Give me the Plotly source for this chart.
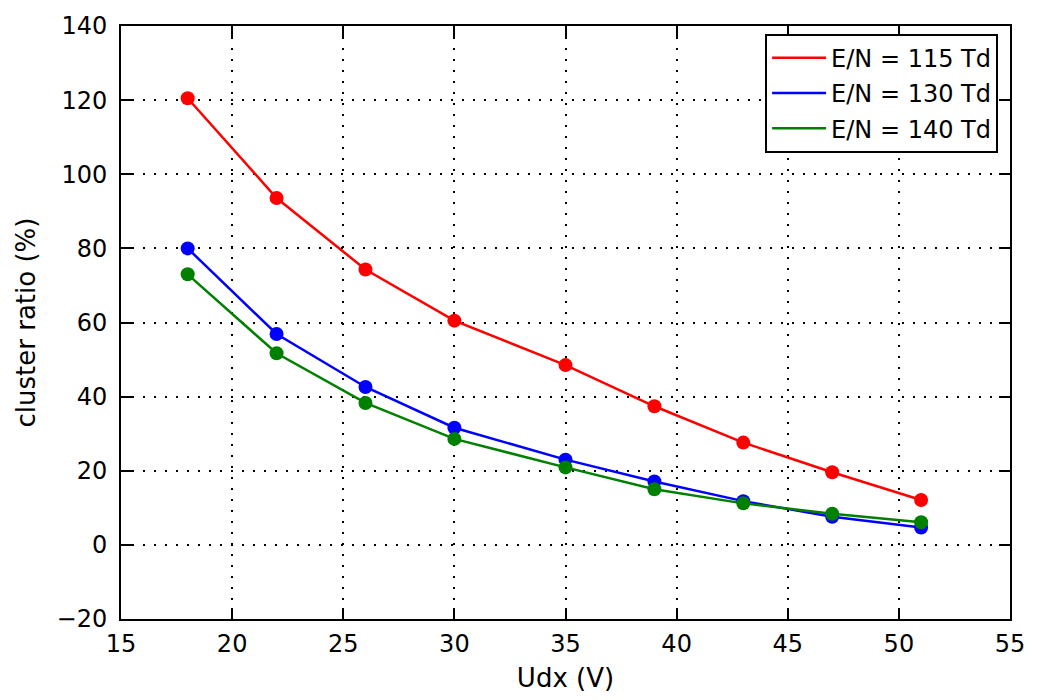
import plotly.graph_objects as go

# Drift voltage (V)
udx = [18, 22, 26, 30, 35, 39, 43, 47, 51]

# Cluster ratio (%) for three reduced field strengths
ratio_115 = [120.5, 93.6, 74.3, 60.5, 48.5, 37.4, 27.6, 19.6, 12.1]
ratio_130 = [80.0, 56.9, 42.6, 31.6, 23.0, 17.1, 11.8, 7.6, 4.7]
ratio_140 = [73.0, 51.7, 38.3, 28.6, 20.9, 15.0, 11.2, 8.4, 6.1]

series_labels = ["E/N = 115 Td", "E/N = 130 Td", "E/N = 140 Td"]
series_values = [ratio_115, ratio_130, ratio_140]
series_colors = ["#ff0000", "#0000ff", "#008000"]

x_ticks = [15, 20, 25, 30, 35, 40, 45, 50, 55]
y_ticks = [-20, 0, 20, 40, 60, 80, 100, 120, 140]

FONT = "DejaVu Sans"

fig = go.Figure()

for i, (label, vals, color) in enumerate(zip(series_labels, series_values, series_colors)):
    # line (shown in the legend)
    fig.add_trace(go.Scatter(
        x=udx, y=vals, mode="lines", name=label,
        line=dict(color=color, width=2.5),
        legendgroup=f"g{i}", showlegend=True,
    ))
    # point markers
    fig.add_trace(go.Scatter(
        x=udx, y=vals, mode="markers", name=label,
        marker=dict(color=color, size=14, line=dict(width=0)),
        legendgroup=f"g{i}", showlegend=False,
    ))

axis_common = dict(
    showline=True, linecolor="black", linewidth=2, mirror="ticks",
    ticks="inside", ticklen=11, tickwidth=1.5, tickcolor="black",
    showgrid=True, gridcolor="black", gridwidth=1.5, griddash="2px,9px",
    zeroline=False,
    tickfont=dict(family=FONT, size=24, color="black"),
)

fig.update_xaxes(
    range=[15, 55], tickvals=x_ticks, ticktext=[str(v) for v in x_ticks],
    ticklabelstandoff=2,
    title=dict(text="Udx (V)", font=dict(family=FONT, size=26, color="black"), standoff=12),
    **axis_common,
)
fig.update_yaxes(
    range=[-20, 140], tickvals=y_ticks, ticktext=[("\u2212" + str(-v)) if v < 0 else str(v) for v in y_ticks],
    ticklabelstandoff=7,
    title=dict(text="cluster ratio (%)", font=dict(family=FONT, size=26, color="black"), standoff=13),
    **axis_common,
)

fig.update_layout(
    width=1037, height=700,
    margin=dict(l=121, r=21, t=23, b=81),
    paper_bgcolor="white", plot_bgcolor="white",
    font=dict(family=FONT, color="black"),
    legend=dict(
        x=0.9866, y=0.987, xanchor="right", yanchor="top",
        bgcolor="white", bordercolor="black", borderwidth=2,
        font=dict(family=FONT, size=24, color="black"),
        traceorder="grouped", tracegroupgap=1,
        itemwidth=54,
    ),
)

fig.write_html("out.html")
